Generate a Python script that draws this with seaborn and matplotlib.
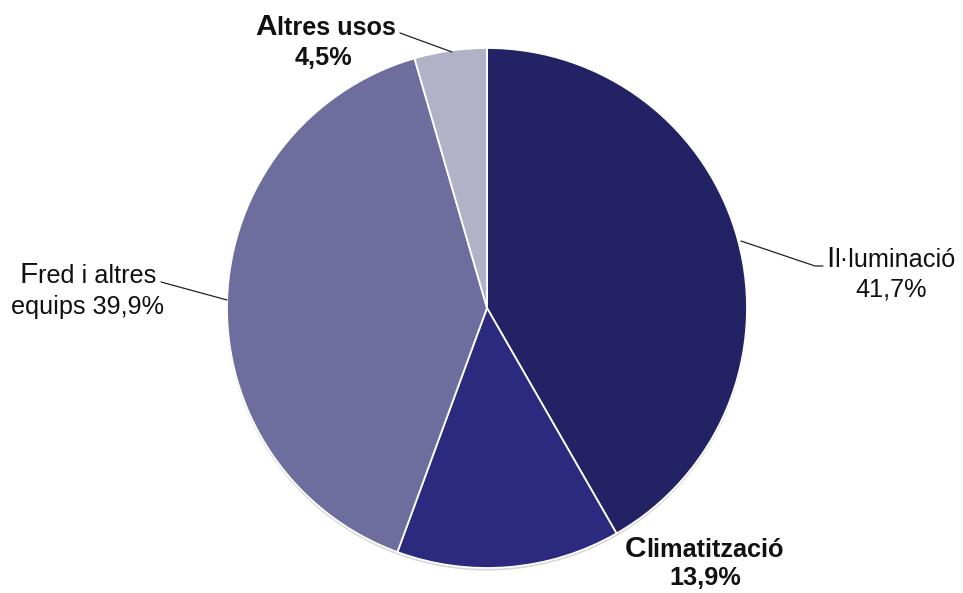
import matplotlib
matplotlib.use("Agg")
import matplotlib.pyplot as plt
from matplotlib.patches import Circle
import seaborn as sns

# Electricity use shares
categories = ["Il·luminació", "Climatització", "Fred i altres equips", "Altres usos"]
shares = [41.7, 13.9, 39.9, 4.5]
slice_colors = ["#222264", "#2b2a7e", "#6e6e9e", "#b1b1c8"]

sns.set_theme(style="white")
plt.rcParams["font.family"] = ["Liberation Sans", "DejaVu Sans"]

W, H = 963, 593
fig = plt.figure(figsize=(W / 100, H / 100), dpi=100)
ax = fig.add_axes([0, 0, 1, 1])

cx, cy, r = 487, 285, 260

# soft shadow under the disc
ax.add_patch(Circle((cx, cy - 2), r + 0.5, facecolor="#d6d6d6", edgecolor="none", zorder=0))

ax.pie(shares, colors=sns.color_palette(slice_colors), startangle=90, counterclock=False,
       center=(cx, cy), radius=r, frame=True,
       wedgeprops=dict(edgecolor="white", linewidth=1.3))

ax.set_xlim(0, W)
ax.set_ylim(0, H)
ax.set_aspect("auto")
ax.axis("off")

fig.canvas.draw()
renderer = fig.canvas.get_renderer()

FS = 18.2
BIG = 21.5
TXT = "#111111"


def lead_text(x, y, text, weight="normal"):
    """Draw text with an enlarged first letter, left-aligned at baseline y."""
    first = ax.text(x, y, text[0], fontsize=BIG, fontweight=weight, color=TXT,
                    ha="left", va="baseline")
    w = first.get_window_extent(renderer).width
    ax.text(x + w, y, text[1:], fontsize=FS, fontweight=weight, color=TXT,
            ha="left", va="baseline")


def fy(y):
    return H - y


def pct(v):
    return f"{v:.1f}%".replace(".", ",")


# Il·luminació
lead_text(826, fy(267), categories[0])
ax.text(891, fy(297), pct(shares[0]), fontsize=FS, color=TXT, ha="center", va="baseline")
ax.plot([741, 815, 823], [fy(241), fy(266), fy(266)], color="#222222", lw=0.9)

# Climatització
lead_text(625, fy(557), categories[1], weight="bold")
ax.text(705, fy(585), pct(shares[1]), fontsize=FS, fontweight="bold",
        color=TXT, ha="center", va="baseline")

# Fred i altres equips
lead_text(20, fy(283), "Fred i altres")
ax.text(11, fy(314), "equips " + pct(shares[2]), fontsize=FS,
        color=TXT, ha="left", va="baseline")
ax.plot([161, 227], [fy(282), fy(300)], color="#222222", lw=0.9)

# Altres usos
lead_text(255, fy(35), categories[3], weight="bold")
ax.text(323, fy(65), pct(shares[3]), fontsize=FS, fontweight="bold",
        color=TXT, ha="center", va="baseline")
ax.plot([400, 452], [fy(33), fy(52)], color="#222222", lw=0.9)

fig.savefig("out.png", dpi=100, facecolor="white")
